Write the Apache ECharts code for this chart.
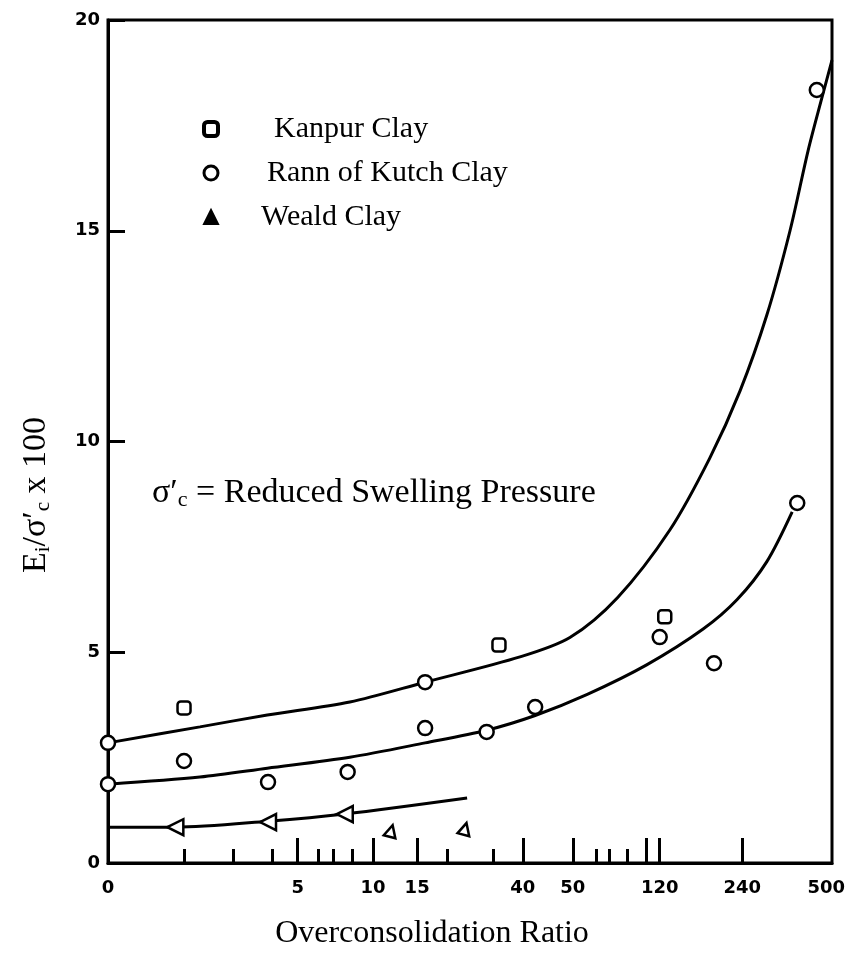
<!DOCTYPE html>
<html>
<head>
<meta charset="utf-8">
<title>Ei/σ'c vs Overconsolidation Ratio</title>
<script src="https://cdn.jsdelivr.net/npm/echarts@6/dist/echarts.min.js"></script>
<style>
  html, body { margin: 0; padding: 0; background: #fff; }
  #chart { width: 856px; height: 960px; }
</style>
</head>
<body>
<div id="chart"></div>
<script>
// x is the position along the (non-uniform) OCR axis, 0..100 of its length
const xLabelPos = [0, 26.2, 36.6, 42.7, 57.3, 64.2, 76.2, 87.6, 99.2]
const xLabelText = ['0', '5', '10', '15', '40', '50', '120', '240', '500']
const xLongTicks = [26.2, 36.6, 42.7, 57.3, 64.2, 74.4, 76.2, 87.6]
const xShortTicks = [10.6, 17.3, 22.7, 29.0, 31.1, 33.7, 46.8, 53.2, 67.5, 69.3, 71.7]

// measured points
const kanpurPts = [[10.5, 3.68], [54.0, 5.17], [76.9, 5.84]]
const kutchPts = [
  [0, 2.85], [0, 1.87], [10.5, 2.42], [22.1, 1.92], [33.1, 2.16],
  [43.8, 4.29], [43.8, 3.20], [52.3, 3.11], [59.0, 3.70], [76.2, 5.36],
  [83.7, 4.74], [95.2, 8.54], [97.9, 18.34]
]
const wealdPts = [[9.3, 0.85], [22.1, 0.97], [32.7, 1.16], [39.1, 0.76], [49.3, 0.81]]
const wealdRot = [90, 90, 90, -15, -15]

// fitted curves
const upperCurve = [
  [0, 2.85], [12.7, 3.23], [22.0, 3.51], [33.4, 3.82], [43.8, 4.29],
  [56.9, 4.89], [63.8, 5.35], [70.4, 6.3], [77.6, 7.9], [83.1, 9.6],
  [87.3, 11.2], [91.0, 13.0], [94.2, 15.0], [96.7, 16.9], [98.6, 18.15], [100, 19.05]
]
const lowerCurve = [
  [0, 1.87], [12.7, 2.04], [22.0, 2.25], [33.4, 2.51], [43.8, 2.85],
  [52.3, 3.15], [59.0, 3.50], [66.2, 4.00], [74.4, 4.70], [82.2, 5.55],
  [86.9, 6.25], [91.0, 7.15], [94.5, 8.33]
]
const wealdCurve = [[0, 0.85], [9.3, 0.85], [22.1, 0.99], [32.7, 1.16], [49.6, 1.54]]

const serif = 'Liberation Serif'
const black = '#000'

const chart = echarts.init(document.getElementById('chart'))

const curve = (data) => ({
  type: 'line',
  data,
  smooth: 0.3,
  showSymbol: false,
  silent: true,
  z: 2,
  lineStyle: { color: black, width: 3 }
})

const hollow = { color: '#fff', borderColor: black, borderWidth: 2.5, opacity: 1 }

chart.setOption({
  animation: false,
  backgroundColor: '#fff',
  grid: {
    left: 108, right: 24, top: 20, bottom: 97,
    show: true, borderColor: black, borderWidth: 3
  },
  legend: {
    orient: 'vertical',
    left: 197,
    top: 107,
    itemWidth: 14,
    itemHeight: 14,
    itemGap: 10,
    selectedMode: false,
    textStyle: { fontFamily: serif, fontSize: 30, color: black, lineHeight: 34 },
    data: [
      { name: 'Kanpur Clay', itemStyle: { borderWidth: 4 }, textStyle: { padding: [0, 0, 0, 51] } },
      { name: 'Rann of Kutch Clay', itemStyle: { borderWidth: 3 }, textStyle: { padding: [0, 0, 0, 44] } },
      { name: 'Weald Clay', itemStyle: { color: black }, textStyle: { padding: [0, 0, 0, 38] } }
    ]
  },
  xAxis: [
    {
      type: 'value', min: 0, max: 100,
      name: 'Overconsolidation Ratio',
      nameLocation: 'middle',
      nameGap: 55,
      nameTextStyle: { fontFamily: serif, fontSize: 32, color: black, padding: [0, 76, 0, 0] },
      axisLine: { lineStyle: { color: black, width: 3 } },
      axisTick: { inside: true, length: 25, customValues: xLongTicks, lineStyle: { color: black, width: 3 } },
      axisLabel: {
        customValues: xLabelPos,
        formatter: (v) => xLabelText[xLabelPos.indexOf(v)] ?? '',
        margin: 16,
        fontFamily: 'DejaVu Sans', fontWeight: 'bold', fontSize: 18, color: black
      },
      splitLine: { show: false }
    },
    {
      type: 'value', min: 0, max: 100, position: 'bottom',
      axisLine: { show: false },
      axisTick: { inside: true, length: 14, customValues: xShortTicks, lineStyle: { color: black, width: 3 } },
      axisLabel: { show: false },
      splitLine: { show: false }
    }
  ],
  yAxis: {
    type: 'value', min: 0, max: 20, interval: 5,
    axisLine: { show: true, lineStyle: { color: black, width: 3 } },
    axisTick: { show: true, inside: true, length: 17, lineStyle: { color: black, width: 3 } },
    axisLabel: { margin: 8, fontFamily: 'DejaVu Sans', fontWeight: 'bold', fontSize: 18, color: black },
    splitLine: { show: false }
  },
  graphic: [
    {
      type: 'text',
      left: 152,
      top: 476,
      style: {
        text: 'σ′{sub|c} = Reduced Swelling Pressure',
        font: '34px "Liberation Serif"',
        fill: black,
        rich: { sub: { fontFamily: serif, fontSize: 22, padding: [15, 0, 0, 0] } }
      }
    },
    {
      type: 'text',
      x: 36,
      y: 495,
      rotation: Math.PI / 2,
      style: {
        text: 'E{sub|i}/σ′{sub|c} x 100',
        font: '34px "Liberation Serif"',
        fill: black,
        align: 'center',
        verticalAlign: 'middle',
        rich: { sub: { fontFamily: serif, fontSize: 21, padding: [15, 0, 0, 0] } }
      }
    }
  ],
  series: [
    curve(upperCurve),
    curve(lowerCurve),
    curve(wealdCurve),
    {
      name: 'Kanpur Clay',
      type: 'scatter',
      symbol: 'roundRect',
      symbolSize: 13,
      z: 5,
      itemStyle: hollow,
      data: kanpurPts
    },
    {
      name: 'Rann of Kutch Clay',
      type: 'scatter',
      symbol: 'circle',
      symbolSize: 14,
      z: 5,
      itemStyle: hollow,
      data: kutchPts
    },
    {
      name: 'Weald Clay',
      type: 'scatter',
      symbol: 'triangle',
      symbolSize: 15,
      z: 5,
      itemStyle: hollow,
      data: wealdPts.map((p, i) => ({ value: p, symbolRotate: wealdRot[i], symbolSize: i < 3 ? 16 : 12 }))
    }
  ]
})
</script>
</body>
</html>
